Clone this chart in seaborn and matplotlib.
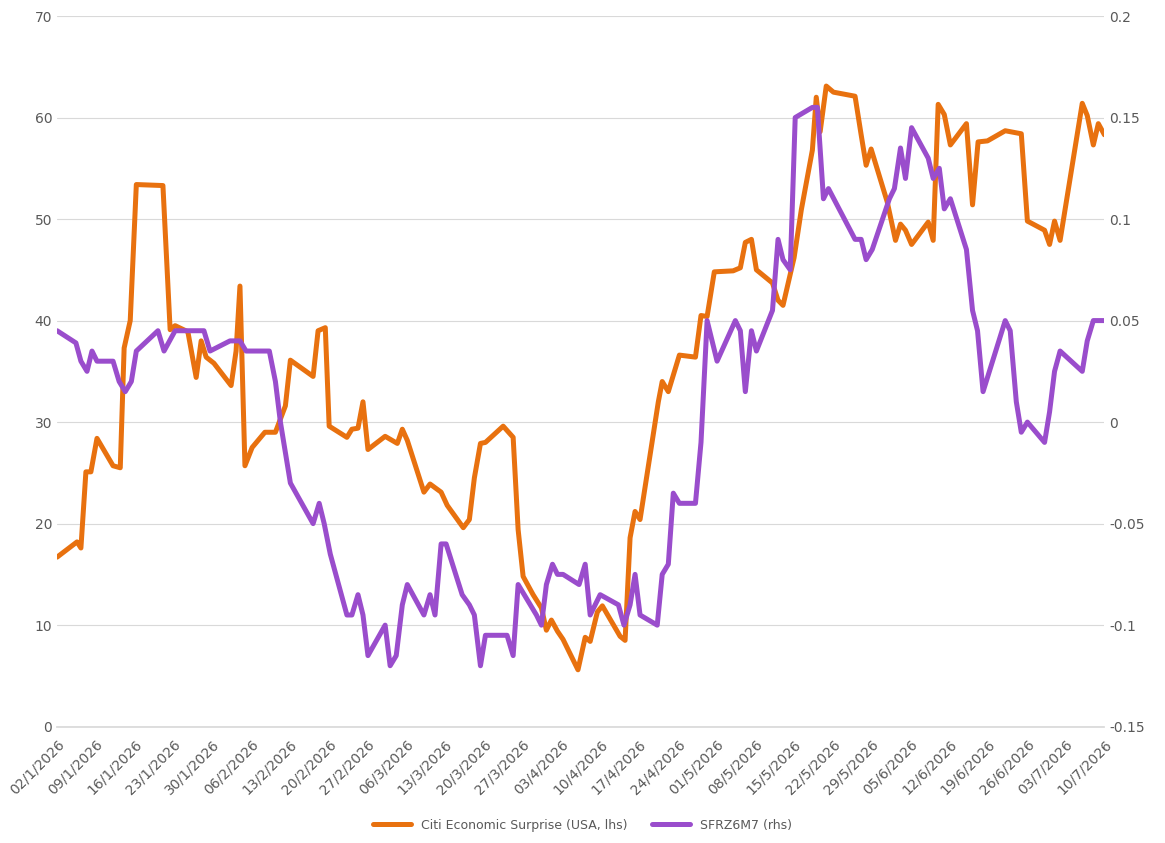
import numpy as np, pandas as pd, matplotlib
matplotlib.use("Agg")
import matplotlib.pyplot as plt, matplotlib.dates as mdates
import seaborn as sns

sns.set_theme(style="white")
plt.rcParams['font.family'] = ['DejaVu Sans']

start = pd.Timestamp("2026-01-02")
citi_days = [0,3.6,4.3,5.2,6.1,7.2,10.1,11.4,12.1,13.2,14.3,19.1,20.4,21.3,23.6,25.1,26,26.9,28.3,31.4,32.3,33,33.9,35.2,37.5,39.4,41.2,42.1,46.2,47.1,48.4,49.1,52.3,53.2,54.3,55.2,56.1,59.2,61.4,62.3,63.2,66.2,67.3,69.3,70.4,73.3,74.4,75.3,76.4,77.3,80.5,82.3,83.2,84.1,85.9,87.4,88.3,89.2,90.3,91.3,94,95.3,96.2,97.5,98.4,101.6,102.5,103.4,104.3,105.2,108.5,109.2,110.3,112.3,115.2,116.2,117.3,118.6,122,123.3,124.2,125.3,126.2,129.1,130.1,131,133,134.3,136.3,137,137.7,138.8,140.1,144,145.1,146,146.9,149.8,151.3,152.2,153.1,154.2,157.2,158.1,159,160.1,161.2,164.1,165.2,166.2,167.9,171.1,174,175.1,178.2,179.1,180,181,185,185.9,187,187.9,189]
citi_vals = [16.7,18.2,17.6,25.1,25.1,28.4,25.7,25.5,37.3,40,53.4,53.3,39.1,39.5,38.9,34.4,38,36.4,35.8,33.6,37,43.4,25.7,27.5,29,29,31.6,36.1,34.5,39,39.3,29.6,28.5,29.3,29.4,32,27.3,28.6,27.9,29.3,28.2,23.1,23.9,23.1,21.8,19.6,20.4,24.5,27.9,28,29.6,28.5,19.4,14.8,13,11.7,9.5,10.5,9.4,8.6,5.6,8.8,8.4,11.3,11.9,8.9,8.5,18.6,21.2,20.4,32,34,33,36.6,36.4,40.5,40.4,44.8,44.9,45.2,47.7,48,45,43.7,42,41.5,46.2,50.9,56.8,62,58.6,63.1,62.5,62.1,58.3,55.3,56.9,51.7,47.9,49.5,48.9,47.5,49.7,47.9,61.3,60.3,57.3,59.4,51.4,57.6,57.7,58.7,58.4,49.8,48.9,47.5,49.8,47.9,61.4,60.2,57.3,59.4,58.3]

sfr_days = [0,3.4,4.3,5.4,6.3,7.2,10.1,11.2,12.3,13.4,14.3,18.2,19.3,21.3,26.5,27.6,31.2,33,34.1,38.3,39.4,40.3,41.2,42.1,46.2,47.3,48.2,49.3,52.3,53.2,54.3,55.2,56.1,59.2,60.1,61.2,62.3,63.2,66.2,67.3,68.2,69.3,70.2,73.1,74.4,75.3,76.4,77.3,81.2,82.3,83.2,86.5,87.4,88.3,89.4,90.3,91.3,94.2,95.3,96.2,98,101.3,102.3,103.4,104.3,105.2,108.3,109.2,110.3,111.2,112.3,115.2,116.2,117.3,118.2,119.1,122.4,123.3,124.2,125.3,126.2,129.1,130.1,131,132.3,133.2,136.3,137.2,138.3,139.2,144,145.1,146,147.1,150.2,151.1,152.2,153.1,154.2,157.2,158.1,159.2,160.1,161.2,164.1,165.2,166.1,167.1,171.1,172,173.1,174,175.1,178.2,179.1,180,181,185,185.9,187,189]
sfr_vals = [0.045,0.039,0.030,0.025,0.035,0.030,0.030,0.020,0.015,0.020,0.035,0.045,0.035,0.045,0.045,0.035,0.040,0.040,0.035,0.035,0.020,0.0,-0.015,-0.03,-0.05,-0.04,-0.05,-0.065,-0.095,-0.095,-0.085,-0.095,-0.115,-0.10,-0.12,-0.115,-0.09,-0.08,-0.095,-0.085,-0.095,-0.06,-0.06,-0.085,-0.09,-0.095,-0.12,-0.105,-0.105,-0.115,-0.08,-0.095,-0.10,-0.08,-0.07,-0.075,-0.075,-0.08,-0.07,-0.095,-0.085,-0.09,-0.10,-0.09,-0.075,-0.095,-0.10,-0.075,-0.07,-0.035,-0.04,-0.04,-0.01,0.05,0.04,0.03,0.05,0.045,0.015,0.045,0.035,0.055,0.09,0.08,0.075,0.15,0.155,0.155,0.11,0.115,0.09,0.09,0.08,0.085,0.11,0.115,0.135,0.12,0.145,0.13,0.12,0.125,0.105,0.11,0.085,0.055,0.045,0.015,0.05,0.045,0.01,-0.005,0.0,-0.01,0.005,0.025,0.035,0.025,0.040,0.05,0.05]

citi = pd.DataFrame({"date": start + pd.to_timedelta(citi_days, unit="D"), "v": citi_vals})
sfr = pd.DataFrame({"date": start + pd.to_timedelta(sfr_days, unit="D"), "v": sfr_vals})

ORANGE = "#E8710F"; PURPLE = "#9A4DCC"
fig, ax = plt.subplots(figsize=(11.65, 8.43), dpi=100)
fig.subplots_adjust(left=0.049, right=0.948, top=0.981, bottom=0.138)
ax2 = ax.twinx()
sns.lineplot(data=citi, x="date", y="v", ax=ax, color=ORANGE, lw=3.6, label="Citi Economic Surprise (USA, lhs)", legend=False)
sns.lineplot(data=sfr, x="date", y="v", ax=ax2, color=PURPLE, lw=3.6, label="SFRZ6M7 (rhs)", legend=False)

ax.set_ylim(0, 70); ax.set_yticks(range(0, 71, 10))
ax2.set_ylim(-0.15, 0.2); ax2.set_yticks(np.arange(-0.15, 0.201, 0.05))
ax2.set_yticklabels(["-0.15", "-0.1", "-0.05", "0", "0.05", "0.1", "0.15", "0.2"])
ax.set_xlim(start, start + pd.Timedelta(days=189))
ticks = [start + pd.Timedelta(days=7*i) for i in range(27)] + [start + pd.Timedelta(days=189)]
ax.set_xticks(ticks)
ax.set_xticklabels([f"{t.day:02d}/{t.month}/{t.year}" for t in ticks], rotation=45, ha="right", rotation_mode="anchor")
ax.yaxis.grid(True, color="#D9D9D9", lw=0.8)
for a in (ax, ax2):
    for s in a.spines.values(): s.set_visible(False)
    a.set_xlabel(""); a.set_ylabel("")
    a.tick_params(labelsize=10, colors="#595959", length=0)
ax.spines["bottom"].set_visible(True); ax.spines["bottom"].set_color("#D9D9D9")
ax.tick_params(axis="x", length=4, color="#D9D9D9")
h1, l1 = ax.get_legend_handles_labels(); h2, l2 = ax2.get_legend_handles_labels()
fig.legend(h1 + h2, l1 + l2, loc="lower center", ncol=2, frameon=False, fontsize=9,
           bbox_to_anchor=(0.5, 0.0), handlelength=3, labelcolor="#595959")
fig.savefig("out.png", dpi=100)
